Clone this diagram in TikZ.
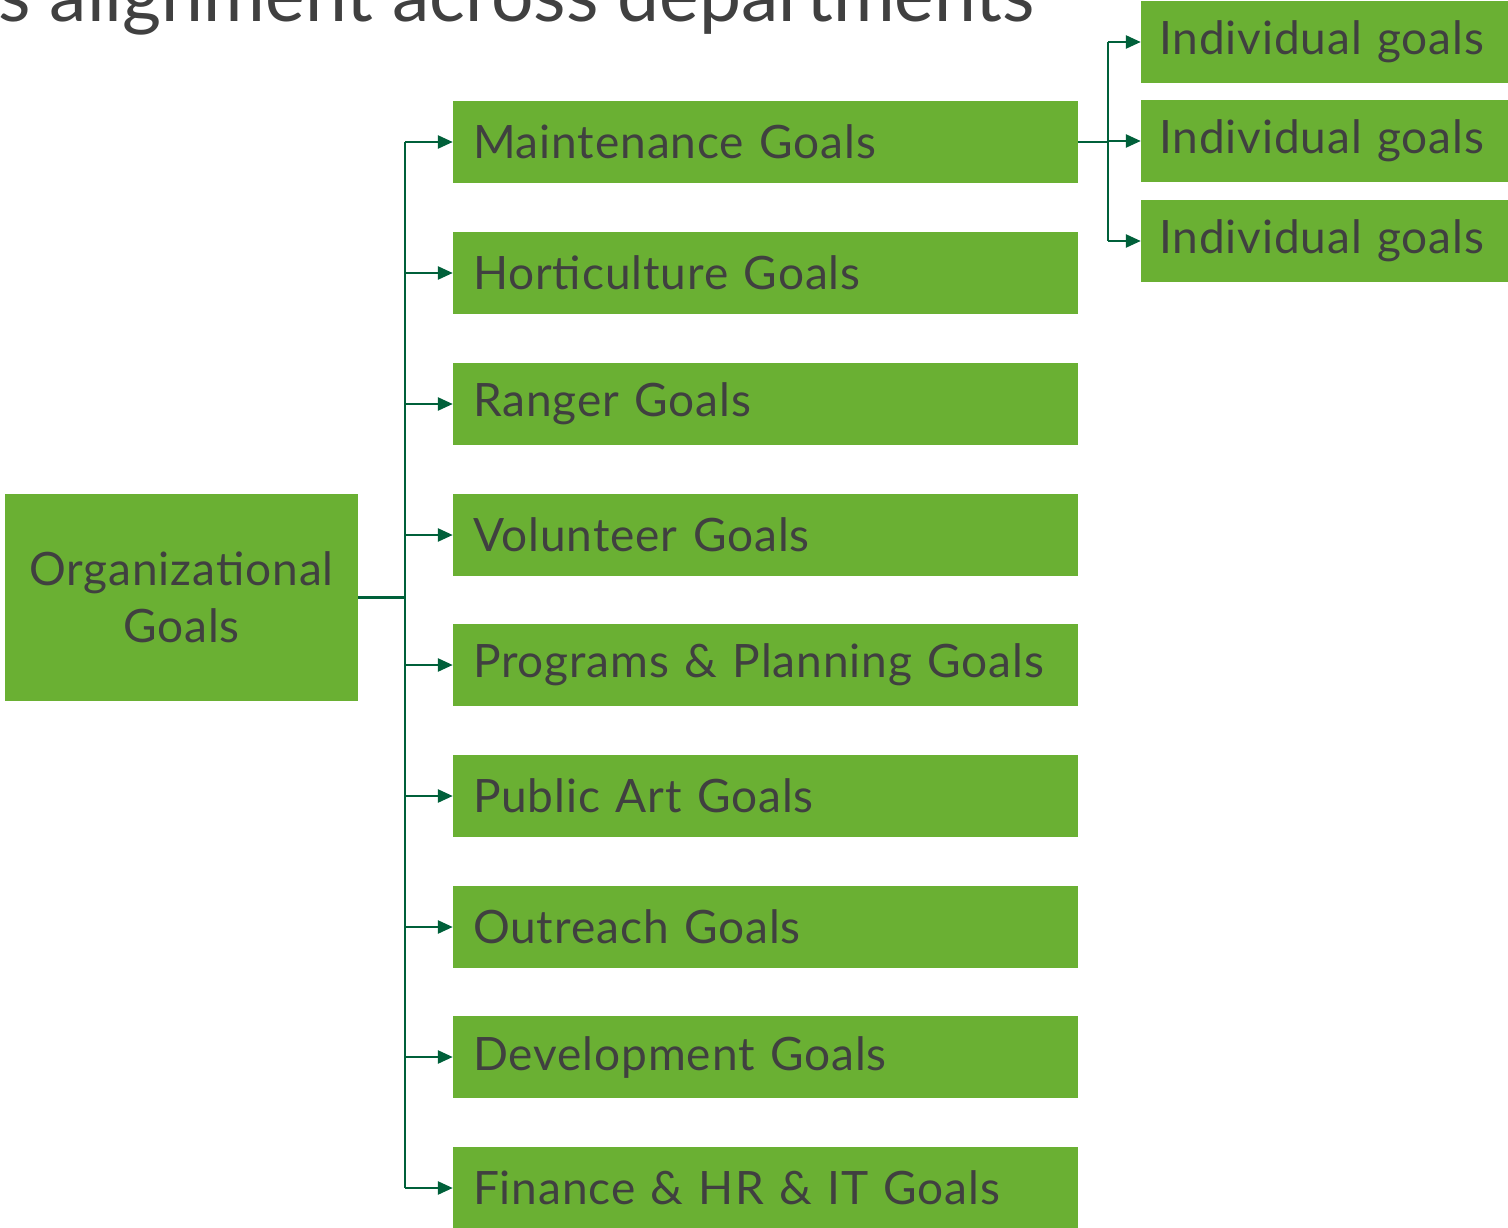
\documentclass[tikz,border=0pt]{standalone}
\usepackage{fontspec}
\setmainfont{Lato}
\newfontfamily\boxfont[LetterSpace=2]{Lato}
\usetikzlibrary{arrows.meta}
\definecolor{boxgreen}{HTML}{6AB033}
\definecolor{linegreen}{HTML}{00603A}
\definecolor{txt}{HTML}{404040}
\tikzset{
  goalbox/.style={fill=boxgreen, draw=none, minimum height=82pt, inner sep=0pt,
    text=txt, font=\boxfont\fontsize{46}{52}\selectfont},
  deptbox/.style={goalbox, minimum width=625pt, text width=585pt, align=left},
  indbox/.style={goalbox, minimum width=367pt, text width=331pt, align=left},
  link/.style={draw=linegreen, line width=2.6pt},
  linkarrow/.style={link, -{Triangle[length=15pt,width=13pt]}},
}
\begin{document}
\begin{tikzpicture}[x=1pt,y=-1pt]
\useasboundingbox (0,0) rectangle (1508,1228);
\clip (0,0) rectangle (1508,1228);
% heading (partly above the top edge)
\node[anchor=base west, inner sep=0pt, text=txt, font=\fontsize{75}{80}\selectfont] (title) at (-2,22) {s alignment across departments};
% root
\node[goalbox, minimum width=353pt, minimum height=207pt, align=center,
  font=\boxfont\fontsize{46}{57}\selectfont] (org) at (181.5,597.5) {Organizational\\Goals};
% departments
\foreach \n/\y/\t in {
  d1/142/Maintenance Goals,
  d2/273/Horticulture Goals,
  d3/404/Ranger Goals,
  d4/535/Volunteer Goals,
  d5/665/Programs \& Planning Goals,
  d6/796/Public Art Goals,
  d7/927/Outreach Goals,
  d8/1057/Development Goals,
  d9/1188/Finance \& HR \& IT Goals}
  \node[deptbox] (\n) at (765.5,\y) {\t};
% individuals
\foreach \n/\y in {i1/42, i2/141, i3/241}
  \node[indbox] (\n) at (1324.5,\y) {Individual goals};
% trunk from the root
\coordinate (trunk) at (405,597.5);
\draw[link] (org.east) -- (trunk);
\draw[link] (d1.west -| trunk) -- (d9.west -| trunk);
\foreach \n in {d1,d2,d3,d4,d5,d6,d7,d8,d9}
  \draw[linkarrow] (\n.west -| trunk) -- (\n.west);
% branch from maintenance
\coordinate (trunk2) at (1108,142);
\draw[link] (d1.east) -- (trunk2);
\draw[link] (i1.west -| trunk2) -- (i3.west -| trunk2);
\foreach \n in {i1,i2,i3}
  \draw[linkarrow] (\n.west -| trunk2) -- (\n.west);
\end{tikzpicture}
\end{document}
